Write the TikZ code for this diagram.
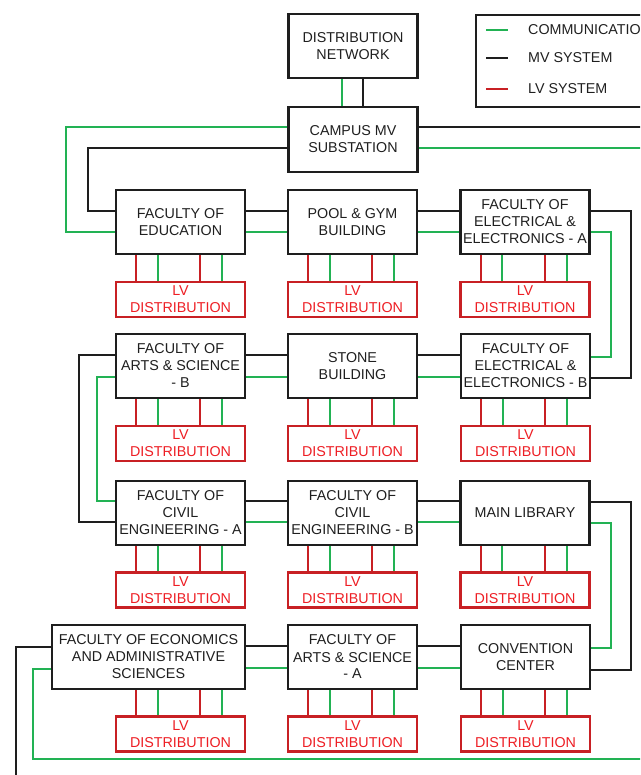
\documentclass[tikz,border=0pt]{standalone}
\usepackage{fontspec}
\setmainfont{Liberation Sans}
\definecolor{comgreen}{RGB}{34,178,84}
\definecolor{lvred}{RGB}{200,32,36}
\definecolor{lvtext}{RGB}{238,30,36}
\definecolor{mvblack}{RGB}{30,30,30}
\begin{document}
\begin{tikzpicture}[x=1pt,y=-1pt,
  txt/.style={font=\fontsize{14.3}{17}\selectfont},
  box/.style={txt, draw=mvblack, line width=2.4pt, fill=white, minimum width=129pt,
    minimum height=64pt, align=center, inner sep=0pt, text=black!88},
  lvbox/.style={txt, draw=lvred, line width=2.2pt, fill=white, minimum width=129pt,
    minimum height=35pt, align=center, inner sep=0pt, text=lvtext},
  mv/.style={draw=mvblack, line width=2pt},
  com/.style={draw=comgreen, line width=2pt},
  lvl/.style={draw=lvred, line width=2pt},
  legtxt/.style={txt, anchor=west, inner sep=0pt, text=black!88}]
\useasboundingbox (0,0) rectangle (640,775);
\clip (0,0) rectangle (640,775);

% top
\node[box] (dn) at (353,46) {DISTRIBUTION\\NETWORK};
\node[box, minimum height=65pt] (cmv) at (353,139.5) {CAMPUS MV\\SUBSTATION};

% legend
\node[draw=mvblack, line width=2.2pt, minimum width=200pt, minimum height=92pt,
  anchor=north west, inner sep=0pt] (legend) at (475,14) {};
\node[legtxt] (lgc) at (528,30) {COMMUNICATION};
\node[legtxt] (lgm) at (528,58) {MV SYSTEM};
\node[legtxt] (lgl) at (528,89) {LV SYSTEM};
\draw[com] (lgc.west) ++(-42,0) coordinate (lgca) -- ++(22,0);
\draw[mv] (lgm.west) ++(-42,0) coordinate (lgma) -- ++(22,0);
\draw[lvl] (lgl.west) ++(-42,0) coordinate (lgla) -- ++(22,0);

% row 1
\node[box] (edu) at (180.5,222) {FACULTY OF\\EDUCATION};
\node[box] (pool) at (352.5,222) {POOL \& GYM\\BUILDING};
\node[box] (eea) at (525,222) {FACULTY OF\\ELECTRICAL \&\\ELECTRONICS - A};
% row 2
\node[box] (asb) at (180.5,366) {FACULTY OF\\ARTS \& SCIENCE\\- B};
\node[box] (stone) at (352.5,366) {STONE\\BUILDING};
\node[box] (eeb) at (525.5,366) {FACULTY OF\\ELECTRICAL \&\\ELECTRONICS - B};
% row 3
\node[box] (cva) at (180.5,513) {FACULTY OF\\CIVIL\\ENGINEERING - A};
\node[box] (cvb) at (352.5,513) {FACULTY OF\\CIVIL\\ENGINEERING - B};
\node[box] (lib) at (525,513) {MAIN LIBRARY};
% row 4
\node[box, minimum width=193pt] (eco) at (148.5,657) {FACULTY OF ECONOMICS\\AND ADMINISTRATIVE\\SCIENCES};
\node[box] (asa) at (352.5,657) {FACULTY OF\\ARTS \& SCIENCE\\- A};
\node[box] (conv) at (525.5,657) {CONVENTION\\CENTER};

% LV boxes
\foreach \b/\x/\y in {edu/180.5/299.5, pool/352.5/299.5, eea/525/299.5,
                      asb/180.5/443.5, stone/352.5/443.5, eeb/525.5/443.5,
                      cva/180.5/590, cvb/352.5/590, lib/525/590,
                      eco/180.5/734, asa/352.5/734, conv/525.5/734}{
  \node[lvbox] (lv\b) at (\x,\y) {LV\\DISTRIBUTION};
  \foreach \dx/\st in {21.5/lvl, 43/com, 85.5/lvl, 107.5/com}{
    \path ([xshift=\dx pt]lv\b.north west) coordinate (p);
    \draw[\st] (p) -- (p |- \b.south);
  }
}

% top connectors
\draw[com] (dn.south -| 342,0) -- (cmv.north -| 342,0);
\draw[mv] (dn.south -| 363,0) -- (cmv.north -| 363,0);
\draw[com] (cmv.west |- 0,127) -- (66,127) |- (edu.west |- 0,232);
\draw[mv] (cmv.west |- 0,148) -- (88,148) |- (edu.west |- 0,211);
\coordinate (outA) at (660,127);
\coordinate (outB) at (660,148);
\draw[mv] (cmv.east |- 0,127) -- (outA);
\draw[com] (cmv.east |- 0,148) -- (outB);

% row 1 connectors
\draw[mv] (edu.east |- 0,211) -- (pool.west |- 0,211);
\draw[com] (edu.east |- 0,232) -- (pool.west |- 0,232);
\draw[mv] (pool.east |- 0,211) -- (eea.west |- 0,211);
\draw[com] (pool.east |- 0,232) -- (eea.west |- 0,232);
\draw[mv] (eea.east |- 0,211) -- (631,211) |- (eeb.east |- 0,378);
\draw[com] (eea.east |- 0,232.5) -- (610.5,232.5) |- (eeb.east |- 0,357);

% row 2 connectors
\draw[mv] (asb.west |- 0,355) -- (79,355) |- (cva.west |- 0,522);
\draw[com] (asb.west |- 0,377) -- (96.5,377) |- (cva.west |- 0,501);
\draw[mv] (asb.east |- 0,355) -- (stone.west |- 0,355);
\draw[com] (asb.east |- 0,377) -- (stone.west |- 0,377);
\draw[mv] (stone.east |- 0,355) -- (eeb.west |- 0,355);
\draw[com] (stone.east |- 0,377) -- (eeb.west |- 0,377);

% row 3 connectors
\draw[mv] (cva.east |- 0,501) -- (cvb.west |- 0,501);
\draw[com] (cva.east |- 0,522) -- (cvb.west |- 0,522);
\draw[mv] (cvb.east |- 0,501) -- (lib.west |- 0,501);
\draw[com] (cvb.east |- 0,522) -- (lib.west |- 0,522);
\draw[mv] (lib.east |- 0,502) -- (631,502) |- (conv.east |- 0,670);
\draw[com] (lib.east |- 0,523) -- (610.5,523) |- (conv.east |- 0,648);

% row 4 connectors
\draw[mv] (eco.east |- 0,646) -- (asa.west |- 0,646);
\draw[com] (eco.east |- 0,668) -- (asa.west |- 0,668);
\draw[mv] (asa.east |- 0,646) -- (conv.west |- 0,646);
\draw[com] (asa.east |- 0,668) -- (conv.west |- 0,668);
\coordinate (outC) at (16,790);
\coordinate (outD) at (660,759);
\draw[mv] (eco.west |- 0,647) -- (16,647) -- (outC);
\draw[com] (eco.west |- 0,669) -- (33,669) |- (outD);
\end{tikzpicture}
\end{document}
